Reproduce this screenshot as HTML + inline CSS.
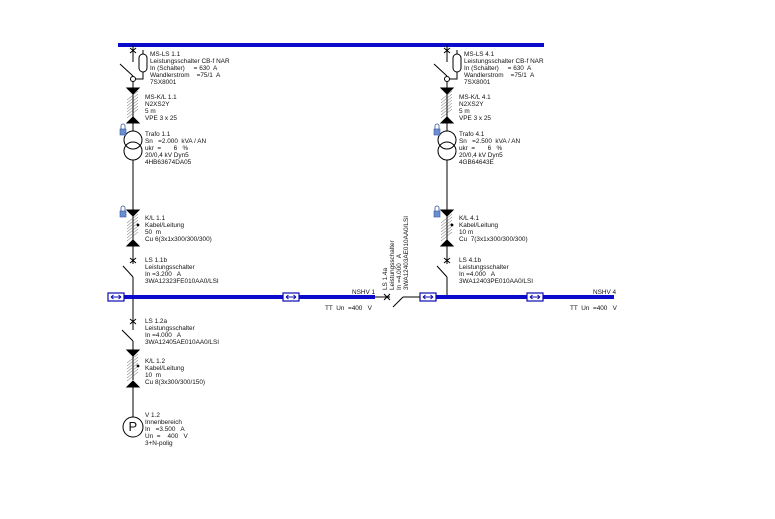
<!DOCTYPE html>
<html><head><meta charset="utf-8"><style>
html,body{margin:0;padding:0;background:#fff;}
svg{display:block;}
text{font-family:"Liberation Sans",sans-serif;font-size:6.4px;fill:#111;white-space:pre;}
</style></head><body>
<svg width="775" height="519" viewBox="0 0 775 519" xmlns="http://www.w3.org/2000/svg">
<defs>
<g id="hatch" stroke="#555" stroke-width="0.5" fill="none">
  <path d="M-6 4 L5 -5 M-6 7 L5 -2 M-6 10 L5 1 M-6 13 L5 4 M-6 16 L5 7 M-6 19 L5 10 M-6 22 L5 13"/>
</g>
<g id="feedTop" stroke="#000" fill="none" stroke-width="1">
  <line x1="0" y1="45" x2="0" y2="62"/>
  <path d="M-3 48 L3 53 M3 48 L-3 53"/>
  <line x1="-13" y1="64" x2="0" y2="76"/>
  <circle cx="0" cy="79" r="2.5"/>
  <line x1="0" y1="81" x2="0" y2="88"/>
  <path d="M2.5 79 H10 V72"/>
  <rect x="6" y="54" width="8" height="18" rx="4"/>
  <line x1="10" y1="50" x2="10" y2="54"/>
  <path d="M-6 88 H6 L0 94 Z" fill="#000"/>
  <line x1="0" y1="94" x2="0" y2="117"/>
  <use href="#hatch" y="96"/>
  <path d="M-6 123 H6 L0 117 Z" fill="#000"/>
  <line x1="0" y1="123" x2="0" y2="131"/>
  <circle cx="0" cy="140" r="9"/>
  <circle cx="0" cy="151" r="9"/>
  <line x1="0" y1="160" x2="0" y2="210"/>
  <rect x="-13" y="129" width="6" height="6" fill="#6a8fd0" stroke="#35559a" stroke-width="0.6"/>
  <path d="M-12 129 V126 A2 2 0 0 1 -8 126 V129" stroke="#35559a" stroke-width="0.8"/>
  <rect x="-13" y="211" width="6" height="6" fill="#6a8fd0" stroke="#35559a" stroke-width="0.6"/>
  <path d="M-12 211 V208 A2 2 0 0 1 -8 208 V211" stroke="#35559a" stroke-width="0.8"/>
  <path d="M-6 210 H6 L0 216 Z" fill="#000"/>
  <line x1="0" y1="216" x2="0" y2="240"/>
  <use href="#hatch" y="219"/>
  <circle cx="5" cy="225" r="0.9" fill="#000"/>
  <path d="M-6 246 H6 L0 240 Z" fill="#000"/>
  <line x1="0" y1="246" x2="0" y2="264"/>
  <path d="M-3 258 L3 263 M3 258 L-3 263"/>
  <line x1="-10" y1="266" x2="0" y2="277"/>
  <line x1="0" y1="277" x2="0" y2="297"/>
</g>
<g id="coup">
  <rect x="0" y="-4" width="16" height="8" fill="#fff" stroke="#0b0bb0" stroke-width="1.2"/>
  <path d="M3 0 H13 M3 0 L5.5 -2 M3 0 L5.5 2 M13 0 L10.5 -2 M13 0 L10.5 2" stroke="#0b0bb0" stroke-width="1" fill="none"/>
</g>
</defs>
<rect x="118" y="43" width="426" height="4" fill="#0b0bcc"/>
<use href="#feedTop" x="133"/>
<use href="#feedTop" x="447"/>
<g stroke="#000" fill="none">
  <line x1="133" y1="297" x2="133" y2="330"/>
  <path d="M130 319 L136 324 M136 319 L130 324"/>
  <line x1="122" y1="330" x2="133" y2="341"/>
  <line x1="133" y1="341" x2="133" y2="350"/>
  <path d="M127 350 H139 L133 356 Z" fill="#000"/>
  <line x1="133" y1="356" x2="133" y2="380"/>
  <use href="#hatch" x="133" y="359"/>
  <circle cx="138" cy="366" r="0.9" fill="#000"/>
  <path d="M127 387 H139 L133 381 Z" fill="#000"/>
  <line x1="133" y1="387" x2="133" y2="417"/>
  <circle cx="133" cy="427" r="10"/>
  <line x1="375" y1="297" x2="390" y2="297"/>
  <path d="M384 294 L390 300 M390 294 L384 300"/>
  <line x1="393" y1="307" x2="403" y2="297"/>
  <line x1="403" y1="297" x2="420" y2="297"/>
</g>
<text x="128.5" y="431" style="font-size:13px">P</text>
<rect x="108" y="295" width="267" height="4" fill="#0b0bcc"/>
<rect x="420" y="295" width="194" height="4" fill="#0b0bcc"/>
<use href="#coup" x="108" y="297"/>
<use href="#coup" x="283" y="297"/>
<use href="#coup" x="420" y="297"/>
<use href="#coup" x="527" y="297"/>
<text x="150" y="56">MS-LS 1.1</text>
<text x="150" y="63">Leistungsschalter CB-f NAR</text>
<text x="150" y="70">In (Schalter)     = 630  A</text>
<text x="150" y="77">Wandlerstrom    =75/1  A</text>
<text x="150" y="84">7SX8001</text>
<text x="145" y="99">MS-K/L 1.1</text>
<text x="145" y="106">N2XS2Y</text>
<text x="145" y="113">5 m</text>
<text x="145" y="120">VPE 3 x 25</text>
<text x="145" y="136">Trafo 1.1</text>
<text x="145" y="143">Sn   =2.000  kVA / AN</text>
<text x="145" y="150">ukr  =       6   %</text>
<text x="145" y="157">20/0,4 kV Dyn5</text>
<text x="145" y="164">4HB63674DA05</text>
<text x="145" y="220">K/L 1.1</text>
<text x="145" y="227">Kabel/Leitung</text>
<text x="145" y="234">50  m</text>
<text x="145" y="241">Cu 6(3x1x300/300/300)</text>
<text x="145" y="262">LS 1.1b</text>
<text x="145" y="269">Leistungsschalter</text>
<text x="145" y="276">In =3.200   A</text>
<text x="145" y="283">3WA12323FE010AA0/LSI</text>
<text x="352" y="294">NSHV 1</text>
<text x="325" y="310">TT  Un  =400   V</text>
<text x="145" y="323">LS 1.2a</text>
<text x="145" y="330">Leistungsschalter</text>
<text x="145" y="337">In =4.000   A</text>
<text x="145" y="344">3WA12405AE010AA0/LSI</text>
<text x="145" y="363">K/L 1.2</text>
<text x="145" y="370">Kabel/Leitung</text>
<text x="145" y="377">10  m</text>
<text x="145" y="384">Cu 8(3x300/300/150)</text>
<text x="145" y="417">V 1.2</text>
<text x="145" y="424">Innenbereich</text>
<text x="145" y="431">In   =3.500   A</text>
<text x="145" y="438">Un  =    400   V</text>
<text x="145" y="445">3+N-polig</text>
<g transform="translate(387,290) rotate(-90)">
<text x="0" y="0">LS 1.4a</text>
<text x="0" y="7">Leistungsschalter</text>
<text x="0" y="14">In =4.000   A</text>
<text x="0" y="21">3WA12403AE010AA0/LSI</text>
</g>
<text x="464" y="56">MS-LS 4.1</text>
<text x="464" y="63">Leistungsschalter CB-f NAR</text>
<text x="464" y="70">In (Schalter)     = 630  A</text>
<text x="464" y="77">Wandlerstrom    =75/1  A</text>
<text x="464" y="84">7SX8001</text>
<text x="459" y="99">MS-K/L 4.1</text>
<text x="459" y="106">N2XS2Y</text>
<text x="459" y="113">5 m</text>
<text x="459" y="120">VPE 3 x 25</text>
<text x="459" y="136">Trafo 4.1</text>
<text x="459" y="143">Sn   =2.500  kVA / AN</text>
<text x="459" y="150">ukr  =       6   %</text>
<text x="459" y="157">20/0,4 kV Dyn5</text>
<text x="459" y="164">4GB64643E</text>
<text x="459" y="220">K/L 4.1</text>
<text x="459" y="227">Kabel/Leitung</text>
<text x="459" y="234">10 m</text>
<text x="459" y="241">Cu  7(3x1x300/300/300)</text>
<text x="459" y="262">LS 4.1b</text>
<text x="459" y="269">Leistungsschalter</text>
<text x="459" y="276">In =4.000   A</text>
<text x="459" y="283">3WA12403PE010AA0/LSI</text>
<text x="593" y="294">NSHV 4</text>
<text x="570" y="310">TT  Un  =400   V</text>
</svg>
</body></html>
